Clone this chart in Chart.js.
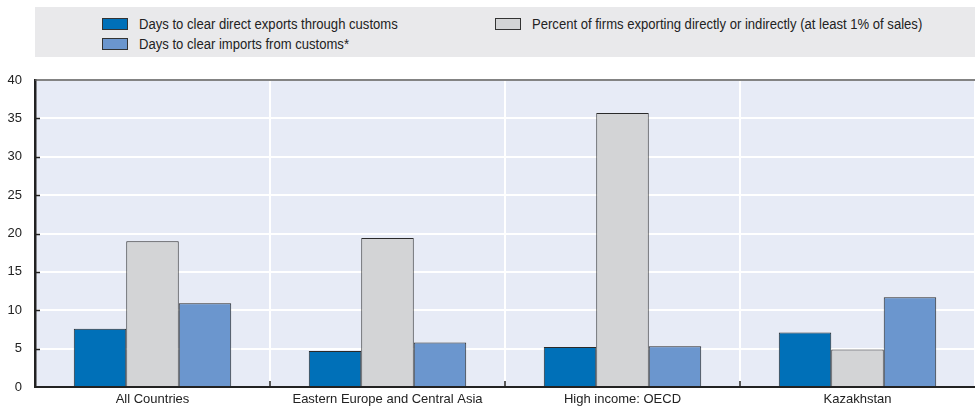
<!DOCTYPE html>
<html>
<head>
<meta charset="utf-8">
<script src="https://cdn.jsdelivr.net/npm/chart.js@4/dist/chart.umd.min.js"></script>
<style>
  html, body { margin: 0; padding: 0; background: #ffffff; }
  #wrap { position: relative; width: 975px; height: 408px; overflow: hidden; }
  #chart { position: absolute; left: 0; top: 0; }
  #legend {
    position: absolute; left: 35px; top: 7px; width: 940px; height: 50px;
    background: #e9e9eb;
    font: 14px 'Liberation Sans', Arial, sans-serif;
    color: #222222;
  }
  .item { position: absolute; display: flex; align-items: center; white-space: nowrap; height: 14px; }
  .sw { width: 26px; height: 12px; box-sizing: border-box; border: 1px solid #333333; margin-right: 11px; flex: none; }
  .txt { display: inline-block; transform: scaleX(0.934); transform-origin: left center; }
</style>
</head>
<body>
<div id="wrap">
  <canvas id="chart" width="975" height="408"></canvas>
  <div id="legend"></div>
</div>
<script>
// Categories and series
const categories = ['All Countries', 'Eastern Europe and Central Asia', 'High income: OECD', 'Kazakhstan'];
const exportDays = [7.6, 4.7, 5.2, 7.1];
const firmsExporting = [19.0, 19.4, 35.7, 4.9];
const importDays = [10.9, 5.8, 5.3, 11.7];
const yTicks = [0, 5, 10, 15, 20, 25, 30, 35, 40];

const seriesNames = [
  'Days to clear direct exports through customs',
  'Percent of firms exporting directly or indirectly (at least 1% of sales)',
  'Days to clear imports from customs*'
];
const seriesColors = ['#0070b8', '#d3d4d6', '#6b96ce'];

const FONT = "'Liberation Sans', Arial, sans-serif";

// Legend laid out in two columns: left column holds the two customs series
const legendSlots = [
  { left: 67, top: 10 },
  { left: 460, top: 10 },
  { left: 67, top: 30 }
];
const legend = document.getElementById('legend');
seriesNames.forEach((name, i) => {
  const item = document.createElement('div');
  item.className = 'item';
  item.style.left = legendSlots[i].left + 'px';
  item.style.top = legendSlots[i].top + 'px';
  const sw = document.createElement('span');
  sw.className = 'sw';
  sw.style.background = seriesColors[i];
  const label = document.createElement('span');
  label.className = 'txt';
  label.textContent = name;
  item.appendChild(sw);
  item.appendChild(label);
  legend.appendChild(item);
});

// Light plot background, top frame line and short inner tick marks
const plotDecor = {
  id: 'plotDecor',
  beforeDraw(chart) {
    const { ctx, chartArea: a } = chart;
    ctx.save();
    ctx.fillStyle = '#e7ebf6';
    ctx.fillRect(a.left, a.top, a.right - a.left, a.bottom - a.top);
    ctx.restore();
  },
  afterDraw(chart) {
    const { ctx, chartArea: a } = chart;
    const xs = chart.scales.x;
    const ys = chart.scales.y;
    ctx.save();
    ctx.strokeStyle = '#5a5a5a';
    ctx.lineWidth = 1.5;
    ctx.beginPath();
    ctx.moveTo(a.left, a.top);
    ctx.lineTo(a.right, a.top);
    ctx.stroke();
    ctx.strokeStyle = '#222222';
    ctx.lineWidth = 1.5;
    // group separators on the category axis
    for (let i = 0; i < categories.length - 1; i++) {
      const x = Math.round((xs.getPixelForValue(i) + xs.getPixelForValue(i + 1)) / 2);
      ctx.beginPath();
      ctx.moveTo(x, a.bottom);
      ctx.lineTo(x, a.bottom - 6);
      ctx.stroke();
    }
    // value ticks pointing into the plot
    yTicks.slice(1, -1).forEach(v => {
      const y = Math.round(ys.getPixelForValue(v)) + 0.5;
      ctx.beginPath();
      ctx.moveTo(a.left, y);
      ctx.lineTo(a.left + 5, y);
      ctx.stroke();
    });
    ctx.restore();
  }
};

new Chart(document.getElementById('chart'), {
  type: 'bar',
  data: {
    labels: categories,
    datasets: [
      { label: seriesNames[0], data: exportDays, backgroundColor: seriesColors[0] },
      { label: seriesNames[1], data: firmsExporting, backgroundColor: seriesColors[1] },
      { label: seriesNames[2], data: importDays, backgroundColor: seriesColors[2] }
    ].map(d => Object.assign(d, {
      borderColor: '#2a2a2a',
      borderWidth: 1,
      borderSkipped: 'bottom',
      categoryPercentage: 0.67,
      barPercentage: 1.0
    }))
  },
  options: {
    responsive: false,
    animation: false,
    layout: { padding: { top: 80, left: 0, right: 0, bottom: 0 } },
    plugins: { legend: { display: false }, tooltip: { enabled: false } },
    scales: {
      x: {
        grid: { color: '#ffffff', lineWidth: 2, offset: true, drawTicks: false },
        border: { color: '#222222', width: 2 },
        ticks: { color: '#222222', font: { family: FONT, size: 13 }, padding: 5, maxRotation: 0 },
        afterFit(scale) { scale.height = 21; }
      },
      y: {
        min: 0,
        max: 40,
        afterBuildTicks(scale) { scale.ticks = yTicks.map(v => ({ value: v })); },
        grid: { color: '#ffffff', lineWidth: 2, drawTicks: false },
        border: { color: '#222222', width: 2.5 },
        ticks: { color: '#222222', font: { family: FONT, size: 13 }, padding: 13 },
        afterFit(scale) { scale.width = 35; }
      }
    }
  },
  plugins: [plotDecor]
});
</script>
</body>
</html>
